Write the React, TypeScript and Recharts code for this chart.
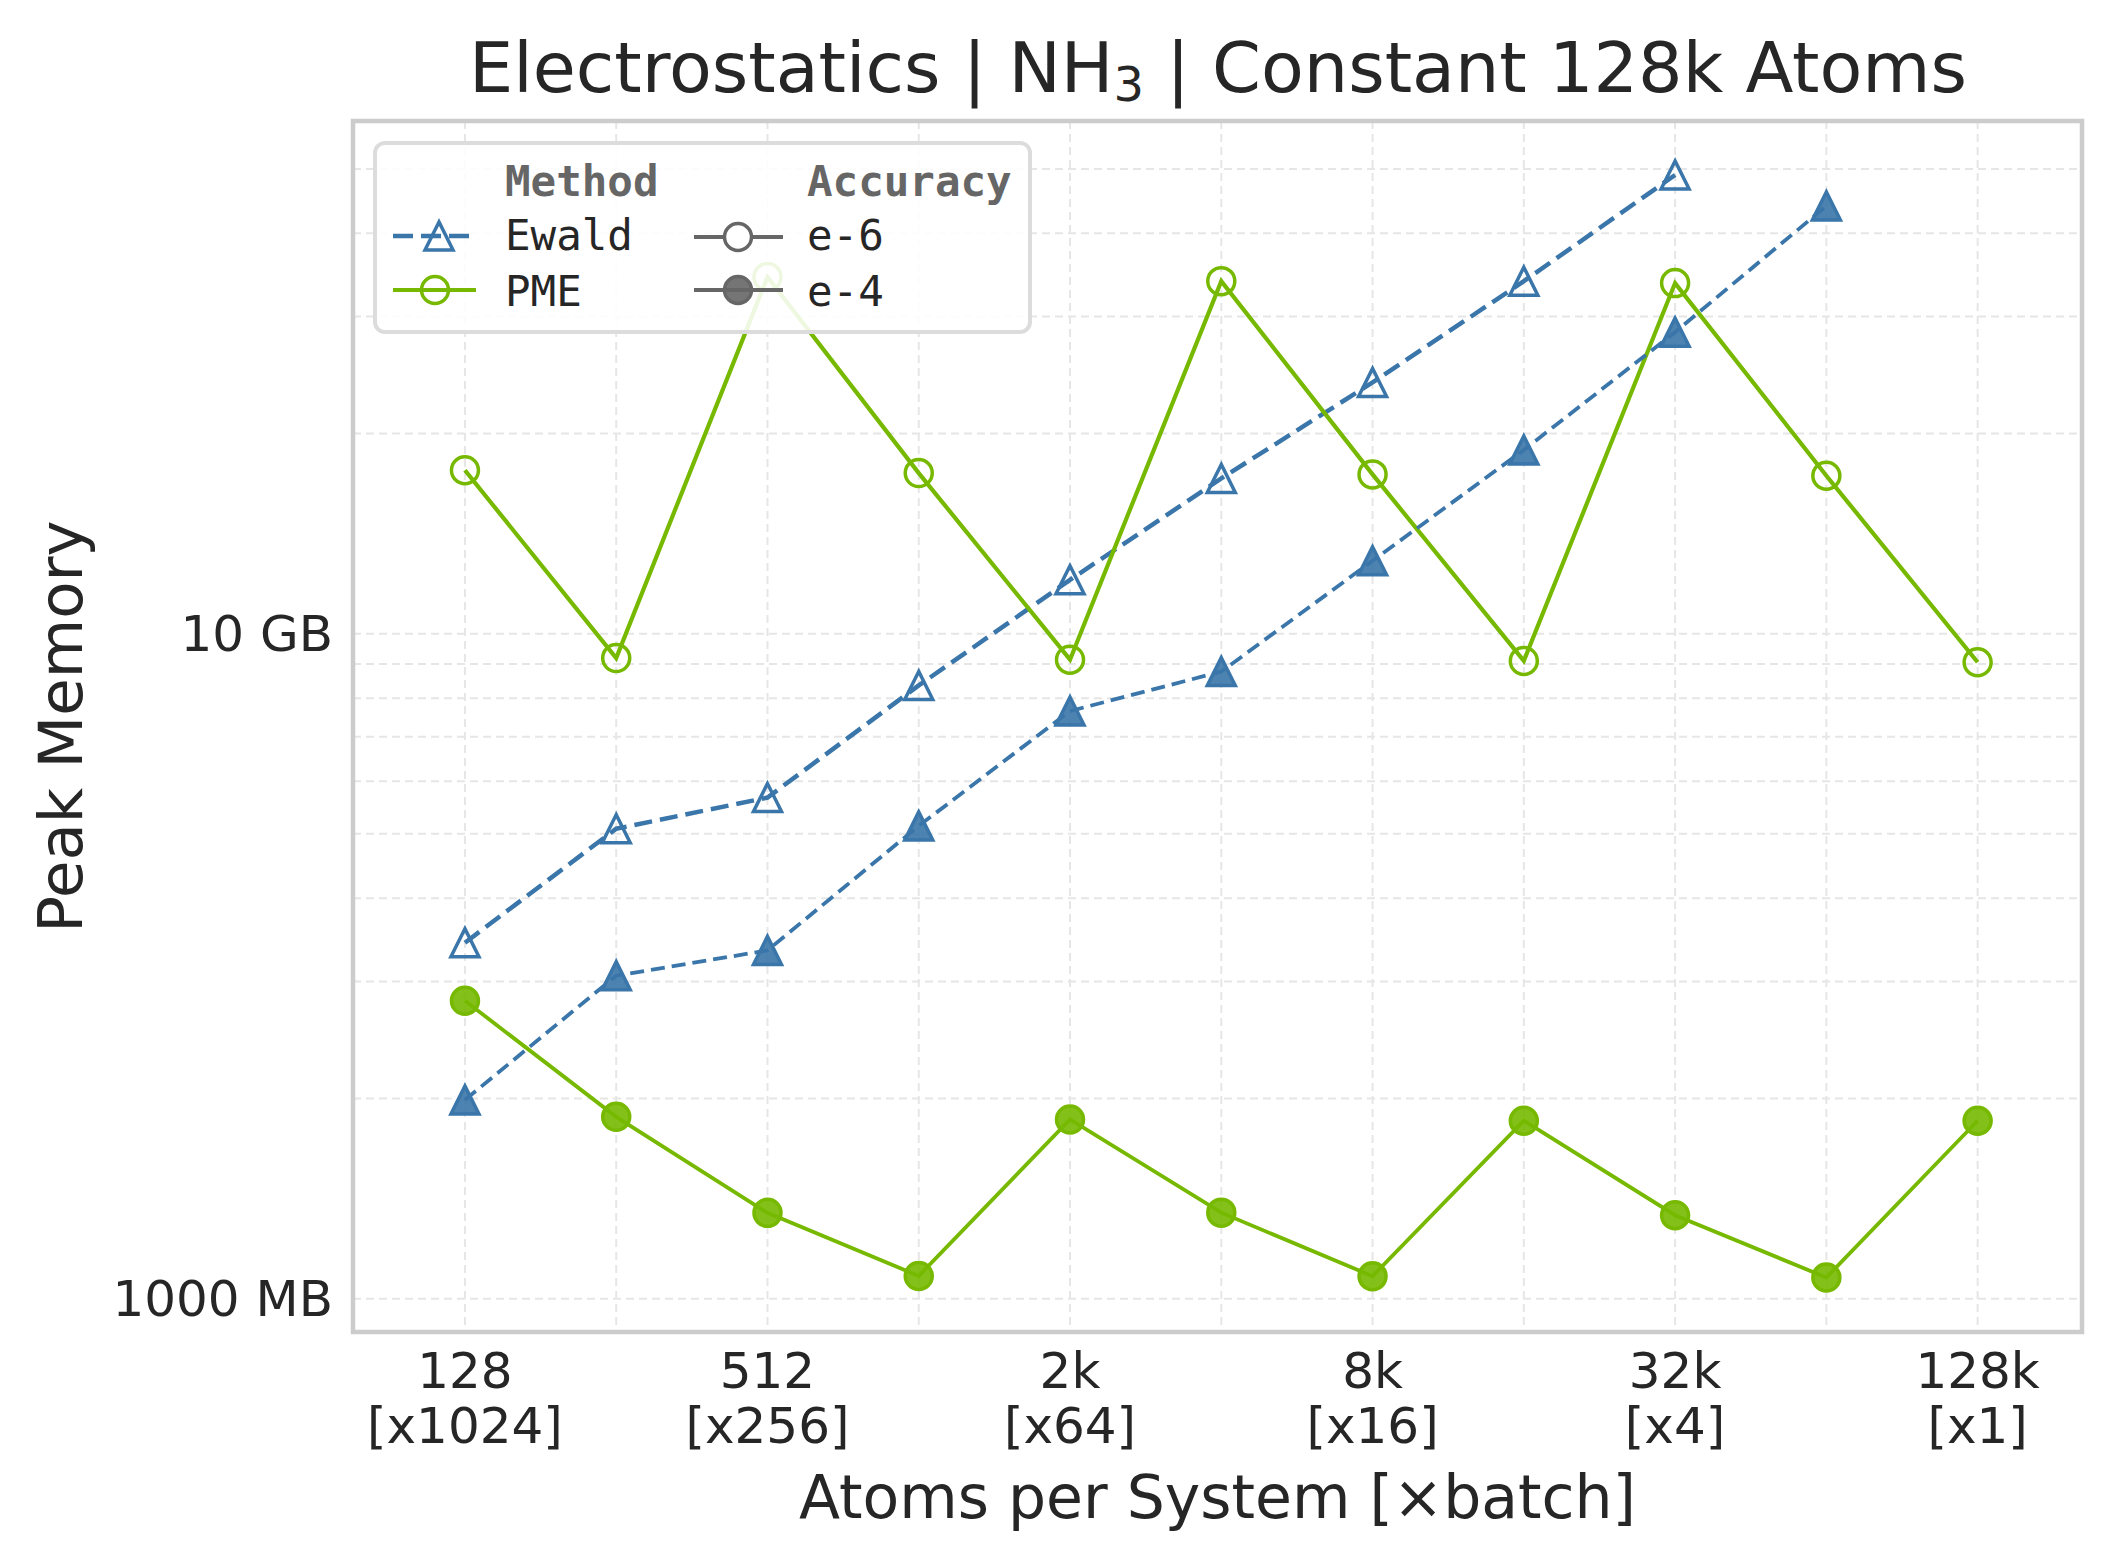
import React from 'react';
import { LineChart, Line, XAxis, YAxis, CartesianGrid, ReferenceArea, Legend } from 'recharts';

// atoms per system and the batch size for each point
const atoms = ['128', '256', '512', '1k', '2k', '4k', '8k', '16k', '32k', '64k', '128k'];
const batches = ['1024', '512', '256', '128', '64', '32', '16', '8', '4', '2', '1'];

// peak memory in MB
const ewaldE6 = [3430, 5090, 5670, 8360, 12050, 17120, 23870, 33890, 48960, null, null];
const ewaldE4 = [1990, 3060, 3340, 5140, 7650, 8770, 12870, 18890, 28410, 43970, null];
const pmeE6 = [17610, 9190, 34390, 17440, 9140, 33900, 17360, 9100, 33670, 17280, 9060];
const pmeE4 = [2806, 1877, 1346, 1082, 1860, 1347, 1081, 1852, 1335, 1076, 1852];

const yTicks = [1000, 2000, 3000, 4000, 5000, 6000, 7000, 8000, 9000, 10000, 20000, 30000, 40000, 50000];
const yLabels: Record<number, string> = { 1000: '1000 MB', 10000: '10 GB' };

const X_DOMAIN: [number, number] = [-0.74, 10.69];
const Y_DOMAIN: [number, number] = [891, 59020];

const BLUE = '#3a76a9';
const GREEN = '#76b900';
const GREY = '#666666';
const TEXT = '#262626';
const FONT = '"DejaVu Sans", sans-serif';
const MONO = '"DejaVu Sans Mono", monospace';

const data = atoms.map((a, i) => ({
  idx: i,
  ewaldE6: ewaldE6[i],
  ewaldE4: ewaldE4[i],
  pmeE6: pmeE6[i],
  pmeE4: pmeE4[i],
}));

const triPath = (cx: number, cy: number) =>
  `M${cx},${cy - 14} L${cx - 14},${cy + 14} L${cx + 14},${cy + 14} Z`;

const triDot = (filled: boolean) => (props: any) => {
  const { cx, cy, index, value } = props;
  if (cx == null || cy == null || value == null) return <g key={`t${index}`} />;
  return (
    <path
      key={`t${index}`}
      d={triPath(cx, cy)}
      fill={filled ? BLUE : 'none'}
      fillOpacity={0.9}
      stroke={BLUE}
      strokeWidth={3.5}
      strokeLinejoin="miter"
    />
  );
};

const circDot = (filled: boolean) => (props: any) => {
  const { cx, cy, index, value } = props;
  if (cx == null || cy == null || value == null) return <g key={`c${index}`} />;
  return (
    <circle
      key={`c${index}`}
      cx={cx}
      cy={cy}
      r={13.5}
      fill={filled ? GREEN : 'none'}
      fillOpacity={0.9}
      stroke={GREEN}
      strokeWidth={3.5}
    />
  );
};

const XTick = ({ x, y, payload }: any) => {
  const i = payload.value;
  if (i % 2 !== 0) return <g />;
  return (
    <text x={x} y={y} textAnchor="middle" fontSize={50} fontFamily={FONT} fill={TEXT}>
      <tspan x={x} dy={56}>{atoms[i]}</tspan>
      <tspan x={x} dy={55}>[x{batches[i]}]</tspan>
    </text>
  );
};

const YTick = ({ x, y, payload }: any) => {
  const label = yLabels[payload.value];
  if (!label) return <g />;
  return (
    <text x={x} y={y} textAnchor="end" dominantBaseline="central" fontSize={50} fontFamily={FONT} fill={TEXT}>
      {label}
    </text>
  );
};

function LegendBox() {
  return (
    <svg width={660} height={194} style={{ display: 'block' }}>
      <rect x={2} y={2} width={655} height={189} rx={10} fill="#ffffff" fillOpacity={0.88} stroke="#dcdcdc" strokeWidth={4} />
      <text x={132} y={55} fontFamily={MONO} fontWeight="bold" fontSize={42.5} fill={GREY}>Method</text>
      <text x={434} y={55} fontFamily={MONO} fontWeight="bold" fontSize={42.5} fill={GREY}>Accuracy</text>

      <line x1={20} x2={103} y1={95} y2={95} stroke={BLUE} strokeWidth={4.5} strokeDasharray="20 8" />
      <path d={triPath(66, 95)} fill="none" stroke={BLUE} strokeWidth={3.5} />
      <text x={132} y={109} fontFamily={MONO} fontSize={42.5} fill={TEXT}>Ewald</text>

      <line x1={20} x2={103} y1={149} y2={149} stroke={GREEN} strokeWidth={4} />
      <circle cx={62} cy={149} r={13.5} fill="none" stroke={GREEN} strokeWidth={3.5} />
      <text x={132} y={165} fontFamily={MONO} fontSize={42.5} fill={TEXT}>PME</text>

      <line x1={321} x2={410} y1={96} y2={96} stroke={GREY} strokeWidth={4} />
      <circle cx={365} cy={96} r={13.5} fill="#ffffff" stroke={GREY} strokeWidth={3.5} />
      <text x={434} y={109} fontFamily={MONO} fontSize={42.5} fill={TEXT}>e-6</text>

      <line x1={321} x2={410} y1={149} y2={149} stroke={GREY} strokeWidth={4} />
      <circle cx={365} cy={149} r={13.5} fill={GREY} fillOpacity={0.9} stroke={GREY} strokeWidth={3.5} />
      <text x={434} y={165} fontFamily={MONO} fontSize={42.5} fill={TEXT}>e-4</text>
    </svg>
  );
}

export default function App() {
  return (
    <div style={{ position: 'relative', width: 2118, height: 1568, background: '#fff' }}>
      <style>{'body{margin:0}'}</style>
      <svg width={2118} height={130} style={{ position: 'absolute', left: 0, top: 0, zIndex: 2, pointerEvents: 'none' }}>
        <text x={1218} y={92} textAnchor="middle" fontSize={70} fontFamily={FONT} fill={TEXT}>
          Electrostatics | NH<tspan fontSize={48} dy={9}>3</tspan>
          <tspan dy={-9}> | Constant 128k Atoms</tspan>
        </text>
      </svg>
      <LineChart width={2118} height={1568} data={data} margin={{ top: 121, right: 36, bottom: 0, left: 0 }}>
        <CartesianGrid stroke="#e6e6e6" strokeWidth={2} strokeDasharray="8 5" />
        <XAxis
          dataKey="idx"
          type="number"
          domain={X_DOMAIN}
          ticks={[0, 1, 2, 3, 4, 5, 6, 7, 8, 9, 10]}
          interval={0}
          allowDataOverflow
          height={236}
          axisLine={false}
          tickLine={false}
          tickSize={0}
          tickMargin={0}
          tick={<XTick />}
          label={(p: any) => {
            const vb = p.viewBox;
            return (
              <text x={vb.x + vb.width / 2} y={vb.y + 186} textAnchor="middle" fontSize={60} fontFamily={FONT} fill={TEXT}>
                Atoms per System [×batch]
              </text>
            );
          }}
        />
        <YAxis
          type="number"
          scale="log"
          domain={Y_DOMAIN}
          ticks={yTicks}
          interval={0}
          allowDataOverflow
          width={353}
          axisLine={false}
          tickLine={false}
          tickSize={0}
          tickMargin={20}
          tick={<YTick />}
          label={(p: any) => {
            const vb = p.viewBox;
            const cy = vb.y + vb.height / 2;
            return (
              <text x={82} y={cy} transform={`rotate(-90, 82, ${cy})`} textAnchor="middle" fontSize={61} fontFamily={FONT} fill={TEXT}>
                Peak Memory
              </text>
            );
          }}
        />
        <ReferenceArea
          x1={X_DOMAIN[0]}
          x2={X_DOMAIN[1]}
          y1={Y_DOMAIN[0]}
          y2={Y_DOMAIN[1]}
          fill="none"
          stroke="#cccccc"
          strokeWidth={4.5}
          ifOverflow="extendDomain"
        />
        <Line dataKey="ewaldE6" stroke={BLUE} strokeWidth={4.5} strokeDasharray="18 8" dot={triDot(false)} activeDot={false} isAnimationActive={false} />
        <Line dataKey="pmeE6" stroke={GREEN} strokeWidth={4.2} dot={circDot(false)} activeDot={false} isAnimationActive={false} />
        <Line dataKey="ewaldE4" stroke={BLUE} strokeWidth={3.8} strokeDasharray="14 7" dot={triDot(true)} activeDot={false} isAnimationActive={false} />
        <Line dataKey="pmeE4" stroke={GREEN} strokeWidth={3.8} dot={circDot(true)} activeDot={false} isAnimationActive={false} />
        <Legend
          layout="horizontal"
          verticalAlign="middle"
          align="center"
          wrapperStyle={{ left: 373, top: 141, width: 660, height: 194 }}
          content={() => <LegendBox />}
        />
      </LineChart>
    </div>
  );
}
